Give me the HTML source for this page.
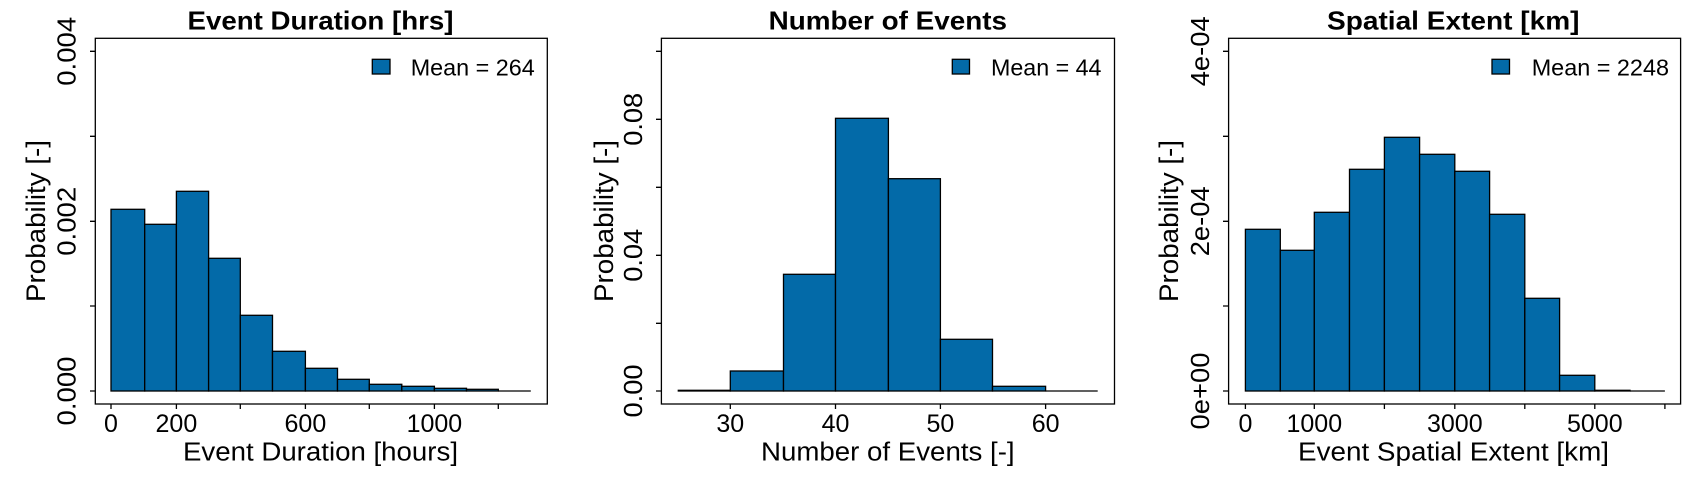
<!DOCTYPE html>
<html><head><meta charset="utf-8"><style>
html,body{margin:0;padding:0;background:#fff;}
svg{display:block;font-family:"Liberation Sans",Arial,sans-serif;}
</style></head><body>
<svg width="1700" height="500" viewBox="0 0 1700 500" xmlns="http://www.w3.org/2000/svg">
<rect width="1700" height="500" fill="#fff"/>
<g stroke="#000" stroke-width="1.3" fill="#036AA8">
<rect x="111" y="209.3" width="33.7" height="181.7"/>
<rect x="144.7" y="224.3" width="31.7" height="166.7"/>
<rect x="176.4" y="191.3" width="32.2" height="199.7"/>
<rect x="208.6" y="258.3" width="31.7" height="132.7"/>
<rect x="240.3" y="315.3" width="32.2" height="75.7"/>
<rect x="272.5" y="351.3" width="32.9" height="39.7"/>
<rect x="305.4" y="368.3" width="32.1" height="22.7"/>
<rect x="337.5" y="379.3" width="31.8" height="11.7"/>
<rect x="369.3" y="384.3" width="32.5" height="6.7"/>
<rect x="401.8" y="386.3" width="32.6" height="4.7"/>
<rect x="434.4" y="388.3" width="32.1" height="2.7"/>
<rect x="466.5" y="389.3" width="31.8" height="1.7"/>
<line x1="498.3" y1="391" x2="530.8" y2="391"/>
<rect x="678.3" y="390.3" width="52" height="0.7"/>
<rect x="730.3" y="371" width="53.2" height="20"/>
<rect x="783.5" y="274.3" width="52" height="116.7"/>
<rect x="835.5" y="118.3" width="52.9" height="272.7"/>
<rect x="888.4" y="178.7" width="52" height="212.3"/>
<rect x="940.4" y="339.3" width="52.1" height="51.7"/>
<rect x="992.5" y="386.3" width="53.1" height="4.7"/>
<line x1="1045.6" y1="391" x2="1097.7" y2="391"/>
<rect x="1245.4" y="229.3" width="34.9" height="161.7"/>
<rect x="1280.3" y="250.3" width="34" height="140.7"/>
<rect x="1314.3" y="212.3" width="35.2" height="178.7"/>
<rect x="1349.5" y="169.3" width="34.9" height="221.7"/>
<rect x="1384.4" y="137.3" width="35.2" height="253.7"/>
<rect x="1419.6" y="154.3" width="35.2" height="236.7"/>
<rect x="1454.8" y="171.3" width="34.8" height="219.7"/>
<rect x="1489.6" y="214.3" width="35.2" height="176.7"/>
<rect x="1524.8" y="298.3" width="34.8" height="92.7"/>
<rect x="1559.6" y="375.3" width="35.2" height="15.7"/>
<rect x="1594.8" y="390.3" width="35.2" height="0.7"/>
<line x1="1630" y1="391" x2="1664.9" y2="391"/>
</g>
<g stroke="#000" stroke-width="1.3" fill="none">
<rect x="95.3" y="38.3" width="452" height="365.7"/>
<rect x="661.4" y="38.3" width="453.1" height="365.7"/>
<rect x="1228.6" y="38.3" width="452" height="365.7"/>
<path d="M90 391H95.3M90 306H95.3M90 221.3H95.3M90 136.3H95.3M90 51.3H95.3"/>
<path d="M111 404V409M176.4 404V409M240.3 404V409M305.4 404V409M369.3 404V409M434.4 404V409M498.3 404V409"/>
<path d="M656 391H661.4M656 323.3H661.4M656 255.3H661.4M656 187.3H661.4M656 119.3H661.4M656 51.3H661.4"/>
<path d="M730.3 404V409M835.5 404V409M940.4 404V409M1045.6 404V409"/>
<path d="M1223 391H1228.6M1223 306H1228.6M1223 221.3H1228.6M1223 136.3H1228.6M1223 51.3H1228.6"/>
<path d="M1245.4 404V409M1314.3 404V409M1384.4 404V409M1454.8 404V409M1524.8 404V409M1594.8 404V409M1664.9 404V409"/>
</g>
<g stroke="#000" stroke-width="1.3" fill="#036AA8">
<rect x="372.3" y="59.3" width="17.7" height="14.7"/>
<rect x="952.3" y="59.3" width="17.2" height="14.7"/>
<rect x="1492" y="59.3" width="17.5" height="14.7"/>
</g>
<g font-size="23.5" fill="#000">
<text x="410.7" y="75.3" textLength="124" lengthAdjust="spacingAndGlyphs">Mean = 264</text>
<text x="991" y="75.3" textLength="110.5" lengthAdjust="spacingAndGlyphs">Mean = 44</text>
<text x="1531.7" y="75.3" textLength="137.3" lengthAdjust="spacingAndGlyphs">Mean = 2248</text>
</g>
<g font-size="26" font-weight="bold" fill="#000">
<text x="187.5" y="29.5" textLength="266" lengthAdjust="spacingAndGlyphs">Event Duration [hrs]</text>
<text x="768.6" y="29.5" textLength="238.4" lengthAdjust="spacingAndGlyphs">Number of Events</text>
<text x="1327" y="29.5" textLength="252.5" lengthAdjust="spacingAndGlyphs">Spatial Extent [km]</text>
</g>
<g font-size="25" fill="#000" text-anchor="middle">
<text x="111" y="432">0</text><text x="176.4" y="432">200</text><text x="305.4" y="432">600</text><text x="434.4" y="432">1000</text>
<text x="730.3" y="432">30</text><text x="835.5" y="432">40</text><text x="940.4" y="432">50</text><text x="1045.6" y="432">60</text>
<text x="1245.4" y="432">0</text><text x="1314.3" y="432">1000</text><text x="1454.8" y="432">3000</text><text x="1594.8" y="432">5000</text>
</g>
<g font-size="25.5" fill="#000">
<text x="183" y="460.3" textLength="275" lengthAdjust="spacingAndGlyphs">Event Duration [hours]</text>
<text x="761" y="460.3" textLength="253.6" lengthAdjust="spacingAndGlyphs">Number of Events [-]</text>
<text x="1298" y="460.3" textLength="311" lengthAdjust="spacingAndGlyphs">Event Spatial Extent [km]</text>
</g>
<g font-size="26" fill="#000" text-anchor="middle">
<text transform="translate(75.4,391) rotate(-90)" textLength="69" lengthAdjust="spacingAndGlyphs">0.000</text>
<text transform="translate(75.4,221.3) rotate(-90)" textLength="69" lengthAdjust="spacingAndGlyphs">0.002</text>
<text transform="translate(75.4,51.3) rotate(-90)" textLength="69" lengthAdjust="spacingAndGlyphs">0.004</text>
<text transform="translate(642,391) rotate(-90)" textLength="53" lengthAdjust="spacingAndGlyphs">0.00</text>
<text transform="translate(642,255.3) rotate(-90)" textLength="53" lengthAdjust="spacingAndGlyphs">0.04</text>
<text transform="translate(642,119.3) rotate(-90)" textLength="53" lengthAdjust="spacingAndGlyphs">0.08</text>
<text transform="translate(1209,391) rotate(-90)" textLength="77" lengthAdjust="spacingAndGlyphs">0e+00</text>
<text transform="translate(1209,221.3) rotate(-90)" textLength="70" lengthAdjust="spacingAndGlyphs">2e-04</text>
<text transform="translate(1209,51.3) rotate(-90)" textLength="70" lengthAdjust="spacingAndGlyphs">4e-04</text>
</g>
<g font-size="26.5" fill="#000" text-anchor="middle">
<text transform="translate(45,221) rotate(-90)" textLength="162" lengthAdjust="spacingAndGlyphs">Probability [-]</text>
<text transform="translate(612.8,221) rotate(-90)" textLength="162" lengthAdjust="spacingAndGlyphs">Probability [-]</text>
<text transform="translate(1178,221) rotate(-90)" textLength="162" lengthAdjust="spacingAndGlyphs">Probability [-]</text>
</g>
</svg>
</body></html>
